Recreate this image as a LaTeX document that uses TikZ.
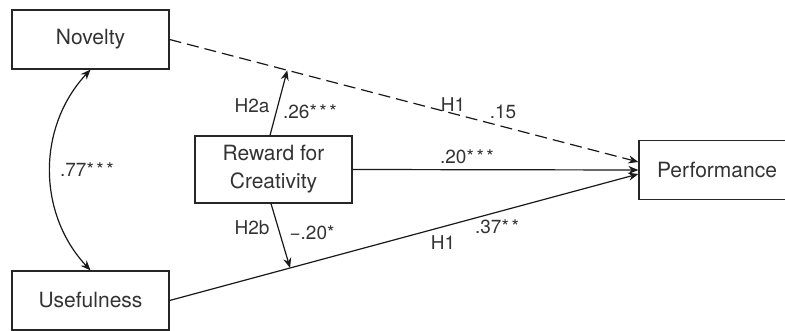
\documentclass[tikz,border=0pt]{standalone}
\usepackage{fontspec}
\setmainfont{TeX Gyre Heros}
\usetikzlibrary{arrows.meta}
\newcommand{\spst}{\kern1.3pt*}
\begin{document}
\begin{tikzpicture}[x=0.5pt,y=0.5pt,
    box/.style={draw=black!85,line width=0.6pt,minimum width=78.5pt,minimum height=29.5pt,
      inner sep=0pt,align=center,text=black!80,font=\fontsize{10.5}{14}\selectfont},
    lbl/.style={inner sep=0pt,text=black!80,font=\fontsize{9.5}{11}\selectfont},
    link/.style={draw=black!90,line width=0.6pt},
    tip/.style={-{Stealth[length=5pt,width=4pt]}}]
             \useasboundingbox (0,0) rectangle (785,331);
             \clip (0,0) rectangle (785,331);

             % boxes
             \node[box] (nov) at (90.5, 291.5) {Novelty};
             \node[box] (use) at (90.5, 30.5) {Usefulness};
             \node[box, minimum height=33.5pt] (rew) at (273.5, 161.5) {Reward for\\Creativity};
             \node[box, minimum width=100pt] (perf) at (739, 161) {Performance\hspace*{22pt}};

             % direct paths
             \draw[link, dashed, dash pattern=on 6pt off 3pt, tip] (nov.east) -- coordinate[pos=.251] (ma) ([yshift=4pt]perf.west);
             \draw[link, tip] (rew.east) -- (perf.west);
             \draw[link, tip] (use.east) -- coordinate[pos=.257] (mb) ([yshift=-2pt]perf.west);

             % moderation
             \draw[link, tip] ([xshift=-1.75pt]rew.north) -- (ma);
             \draw[link, tip] ([xshift=-1.25pt]rew.south) -- (mb);

             % correlation
             \draw[link, {Stealth[length=5pt,width=4pt]}-{Stealth[length=5pt,width=4pt]}]
                  (nov.south) to[bend right=43] (use.north);

             % labels
             \node[lbl] (h2a) at (252, 225) {H2a};
             \node[lbl] (b26) at (310, 219) {.26*\spst\spst};
             \node[lbl] (h1n) at (453, 226) {H1};
             \node[lbl] (b15) at (503, 219) {.15};
             \node[lbl] (b20) at (467, 174) {.20*\spst\spst};
             \node[lbl] (r77) at (87, 161) {.77*\spst\spst};
             \node[lbl] (h2b) at (252, 103) {H2b};
             \node[lbl] (bm20) at (312, 98) {−.20*};
             \node[lbl] (h1u) at (443, 88) {H1};
             \node[lbl] (b37) at (497, 104) {.37*\spst};
\end{tikzpicture}
\end{document}
